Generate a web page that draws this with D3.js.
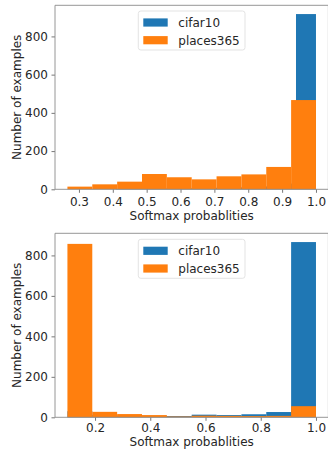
<!DOCTYPE html>
<html>
<head>
<meta charset="utf-8">
<script src="https://cdn.jsdelivr.net/npm/d3@7"></script>
<style>
  html, body { margin: 0; padding: 0; background: #fff; }
  svg { display: block; }
  text { font-family: "DejaVu Sans", sans-serif; }
</style>
</head>
<body>
<svg id="chart" width="328" height="449"></svg>
<script>
// ---------- data ----------
const seriesNames = ["cifar10", "places365"];

// Panel 1
const topCifarRange = [0.41, 1.0];
const topPlacesRange = [0.266, 1.0];
const topCifar = [2, 3, 4, 5, 6, 8, 10, 15, 30, 917];
const topPlaces = [14, 26, 40, 80, 63, 52, 68, 78, 117, 467];
const topXTicks = [0.3, 0.4, 0.5, 0.6, 0.7, 0.8, 0.9, 1.0];

// Panel 2
const bottomCifarRange = [0.1, 1.0];
const bottomPlacesRange = [0.1, 1.0];
const bottomCifar = [30, 12, 8, 7, 6, 13, 11, 15, 26, 866];
const bottomPlaces = [857, 27, 16, 11, 4, 8, 7, 6, 7, 55];
const bottomXTicks = [0.2, 0.4, 0.6, 0.8, 1.0];

const yTicks = [0, 200, 400, 600, 800];

const colors = ["#1f77b4", "#ff7f0e"];
const textColor = "#262626";
const fontSize = 12;

const svg = d3.select("#chart");

function bins(range, values) {
  const w = (range[1] - range[0]) / values.length;
  return values.map((v, i) => ({ x0: range[0] + i * w, x1: range[0] + (i + 1) * w, v }));
}

function drawPanel(opt) {
  const left = 55, right = 328.4;
  const top = opt.top, bottom = opt.bottom;
  const series = [bins(opt.cifarRange, opt.cifar), bins(opt.placesRange, opt.places)];
  const xmin = d3.min(series, s => s[0].x0);
  const xmax = d3.max(series, s => s[s.length - 1].x1);
  const span = xmax - xmin;
  const x = d3.scaleLinear().domain([xmin - 0.05 * span, xmax + 0.05 * span]).range([left, right]);
  const ymax = d3.max(series, s => d3.max(s, d => d.v));
  const y = d3.scaleLinear().domain([0, ymax * 1.05]).range([bottom, top]);

  const g = svg.append("g");

  // bars (cifar10 first, places365 drawn over it)
  series.forEach((s, si) => {
    g.append("g").selectAll("rect").data(s).join("rect")
      .attr("x", d => x(d.x0))
      .attr("width", d => x(d.x1) - x(d.x0))
      .attr("y", d => y(d.v))
      .attr("height", d => y(0) - y(d.v))
      .attr("fill", colors[si]);
  });

  // axes
  const xAxis = d3.axisBottom(x).tickValues(opt.xTicks).tickFormat(d3.format(".1f"))
    .tickSize(3.5).tickPadding(opt.xPad);
  const gx = g.append("g").attr("transform", `translate(0,${bottom})`).call(xAxis);
  const yAxis = d3.axisLeft(y).tickValues(yTicks).tickFormat(d3.format("d"))
    .tickSize(3.5).tickPadding(3.5);
  const gy = g.append("g").attr("transform", `translate(${left},0)`).call(yAxis);
  [gx, gy].forEach(a => {
    a.select(".domain").remove();
    a.selectAll(".tick line").attr("stroke", "#555").attr("stroke-width", 0.8);
    a.selectAll(".tick text").attr("fill", textColor).attr("font-size", fontSize)
      .attr("font-family", "DejaVu Sans, sans-serif");
  });

  // spines
  const sp = g.append("g").attr("stroke", "#8a8a8a").attr("stroke-width", 0.9).attr("fill", "none");
  sp.append("line").attr("x1", left).attr("x2", left).attr("y1", top).attr("y2", bottom);
  sp.append("line").attr("x1", left).attr("x2", right).attr("y1", top).attr("y2", top);
  sp.append("line").attr("x1", left).attr("x2", right).attr("y1", bottom).attr("y2", bottom);
  sp.append("line").attr("x1", right).attr("x2", right).attr("y1", top).attr("y2", bottom);

  // labels
  g.append("text").attr("x", (left + right) / 2).attr("y", bottom + opt.labelDy)
    .attr("text-anchor", "middle").attr("fill", textColor).attr("font-size", fontSize)
    .text("Softmax probablities");
  g.append("text")
    .attr("transform", `translate(20.8,${(top + bottom) / 2}) rotate(-90)`)
    .attr("text-anchor", "middle").attr("fill", textColor).attr("font-size", fontSize)
    .text("Number of examples");

  // legend
  const lg = g.append("g").attr("transform", `translate(138.3,${top + opt.legendDy})`);
  lg.append("rect").attr("x", 0).attr("y", 0).attr("width", 106.7).attr("height", 39)
    .attr("rx", 2.5).attr("fill", "#fff").attr("fill-opacity", 0.8)
    .attr("stroke", "#dcdcdc").attr("stroke-width", 0.8);
  seriesNames.forEach((name, i) => {
    const cy = 11.5 + i * 17.7;
    lg.append("rect").attr("x", 5).attr("y", cy - 4.1).attr("width", 24.4).attr("height", 8.2)
      .attr("fill", colors[i]);
    lg.append("text").attr("x", 40).attr("y", cy + 4.3).attr("fill", textColor)
      .attr("font-size", fontSize).text(name);
  });
}

drawPanel({
  top: 5.3, bottom: 189.3,
  cifarRange: topCifarRange, placesRange: topPlacesRange,
  cifar: topCifar, places: topPlaces, xTicks: topXTicks, legendDy: 5.7,
  xPad: 4.4, labelDy: 30.9
});
drawPanel({
  top: 233.3, bottom: 417.3,
  cifarRange: bottomCifarRange, placesRange: bottomPlacesRange,
  cifar: bottomCifar, places: bottomPlaces, xTicks: bottomXTicks, legendDy: 6,
  xPad: 2.5, labelDy: 28.4
});
</script>
</body>
</html>
